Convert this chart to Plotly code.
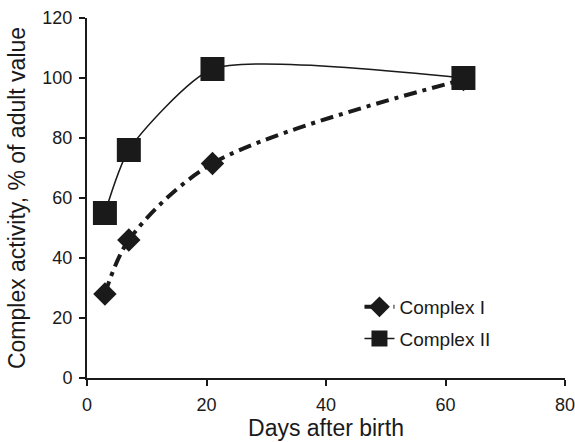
import plotly.graph_objects as go

days = [3, 7, 21, 63]
complex1 = [28, 46, 71.5, 99.5]
complex2 = [55, 76, 103, 100]

fig = go.Figure()
fig.add_trace(go.Scatter(
    x=days, y=complex1, name="Complex I", mode="lines+markers", legendgroup="a",
    line=dict(color="#1a1a1a", width=4, dash="13px,6px,4px,6px", shape="spline", smoothing=0.9),
    marker=dict(symbol="diamond", size=18, color="#1a1a1a"),
))
fig.add_trace(go.Scatter(
    x=days, y=complex2, name="Complex II", mode="lines+markers", legendgroup="b",
    line=dict(color="#1a1a1a", width=1.5, shape="spline", smoothing=0.6),
    marker=dict(symbol="square", size=24, color="#1a1a1a"),
))

axis_common = dict(
    showline=True, linecolor="#1a1a1a", linewidth=2,
    ticks="outside", ticklen=6, tickwidth=2, tickcolor="#1a1a1a",
    showgrid=False, zeroline=False, automargin=False,
    ticklabeloverflow="allow", ticklabelstandoff=3,
    tickfont=dict(family="Liberation Sans, Arial", size=18, color="#1a1a1a"),
)

fig.update_layout(
    width=575, height=442,
    margin=dict(l=87, r=10, t=18, b=64),
    paper_bgcolor="white", plot_bgcolor="white",
    font=dict(family="Liberation Sans, Arial", size=19, color="#1a1a1a"),
    xaxis=dict(range=[0, 80], dtick=20, title=dict(text="Days after birth", standoff=6), **axis_common),
    yaxis=dict(range=[0, 120], dtick=20, title=dict(text="Complex activity, % of adult value", standoff=10), **axis_common),
    legend=dict(x=0.57, y=0.25, xanchor="left", yanchor="top", bgcolor="rgba(0,0,0,0)",
                font=dict(size=19), tracegroupgap=4),
    showlegend=True,
)

fig.write_html("out.html")
